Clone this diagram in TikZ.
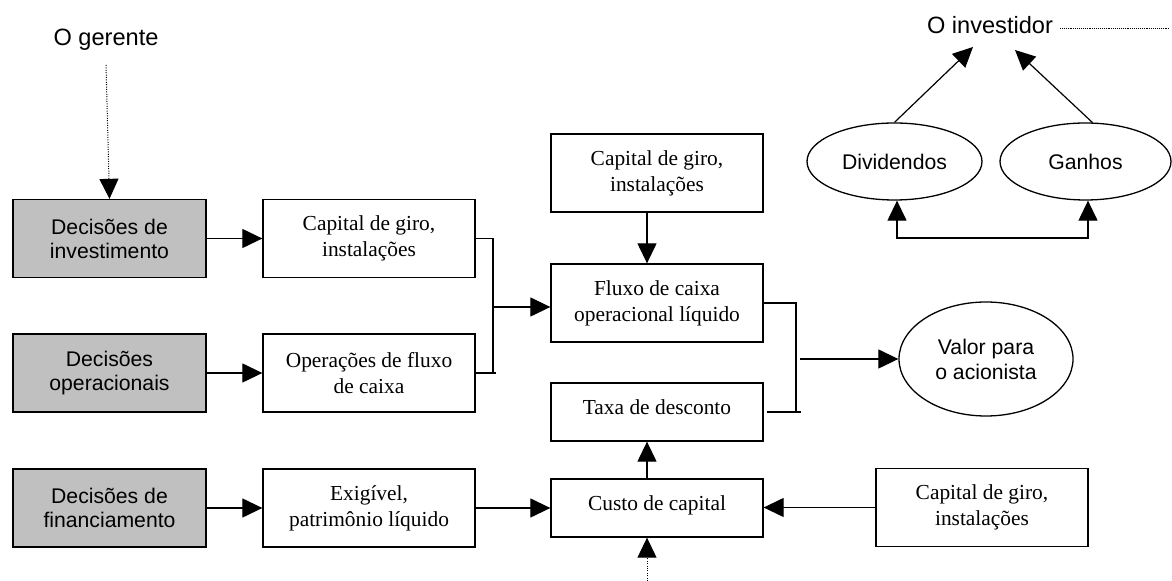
\documentclass[tikz,border=0pt]{standalone}
\usepackage{fontspec}
\setmainfont{Liberation Serif}
\setsansfont{Liberation Sans}
\usepackage{tikz}
\usetikzlibrary{calc}
\usetikzlibrary{positioning}
\usetikzlibrary{arrows.meta}
\usetikzlibrary{shapes}
\definecolor{boxgray}{RGB}{192,192,192}

\begin{document}
\begin{tikzpicture}[x=0.5pt,y=-0.5pt,>={Triangle[length=10pt,width=9.5pt]},
 box/.style={draw,line width=0.65pt,minimum width=106pt,minimum height=39pt,align=center,inner sep=0pt,font=\fontsize{10.7}{13}\selectfont},
 decbox/.style={box,fill=boxgray,minimum width=96.5pt,font=\sffamily\fontsize{10.6}{12}\selectfont},
 onebox/.style={box,minimum height=29pt,text depth=5pt},
 oval/.style={draw,ellipse,line width=0.65pt,inner sep=0pt,align=center,font=\sffamily\fontsize{10.6}{12.5}\selectfont},
 who/.style={font=\sffamily\fontsize{11.8}{14}\selectfont},
 arr/.style={->,line width=0.6pt},
 link/.style={line width=0.6pt},
 dots/.style={line width=0.5pt,dash pattern=on 0.5pt off 0.7pt},
 finedots/.style={line width=0.35pt,dash pattern=on 0.35pt off 0.6pt}]

\useasboundingbox (0,0) rectangle (1172,581);

\node[who] (gerente) at (106,40) {O gerente};
\node[who] (investidor) at (990,25) {O investidor};

\node[decbox] (DI) at (109.5,238.5) {Decisões de\\investimento};
\node[decbox] (DO) at (109.5,373) {Decisões\\operacionais};
\node[decbox] (DF) at (109.5,508) {Decisões de\\financiamento};

\node[box] (CGa) at (369,238.5) {Capital de giro,\\instalações};
\node[box] (OF) at (369,373) {Operações de fluxo\\de caixa};
\node[box] (EX) at (369,508) {Exigível,\\patrimônio líquido};

\node[box] (CGb) at (657,173) {Capital de giro,\\instalações};
\node[box] (FC) at (657,303) {Fluxo de caixa\\operacional líquido};
\node[onebox] (TD) at (657,412) {Taxa de desconto};
\node[onebox] (CC) at (657,508) {Custo de capital};
\node[box] (CGc) at (982,507.5) {Capital de giro,\\instalações};

\node[oval,minimum width=87pt,minimum height=57pt] (VA) at (986,359) {Valor para\\o acionista};
\node[oval,minimum width=87.5pt,minimum height=38.5pt] (DV) at (894.5,161.5) {Dividendos};
\node[oval,minimum width=85.5pt,minimum height=38.5pt] (GA) at (1085.5,161.5) {Ganhos};

\coordinate (g0) at (106,65);
\coordinate (c0) at (647,581);
\coordinate (i1) at (1170,28);
\coordinate (j1) at (493,307);
\coordinate (j2) at (796,359);
\coordinate (v1) at (973,47);
\coordinate (v2) at (1015,50);
\coordinate (hb) at (897,238);
\coordinate (hc) at (1088,238);

\draw[dots,->] (g0) -- (DI.north);
\draw[dots,->] (c0) -- (c0 |- CC.south);
\draw[finedots] (investidor.east |- i1) -- (i1);

\draw[arr] (DI.east) -- (CGa.west);
\draw[arr] (DO.east) -- (OF.west);
\draw[arr] (DF.east) -- (EX.west);
\draw[arr] (EX.east) -- (CC.west);
\draw[arr] (CGc.west) -- (CC.east |- CGc.west);

\draw[link] (CGa.east) -| (j1 |- OF.east) -- ++(3,0);
\draw[link] (OF.east) -- (j1 |- OF.east);
\draw[arr] (j1) -- (j1 -| FC.west);

\draw[arr] (CGb.south -| c0) -- (FC.north -| c0);
\draw[arr] (CC.north -| c0) -- (TD.south -| c0);

\draw[link] (FC.east) -| (j2 |- TD.east) -- ++(5,0);
\draw[link] ([xshift=1.5pt]TD.east) -- (j2 |- TD.east);
\draw[arr] ([xshift=2pt]j2) -- (j2 -| VA.west);

\draw[arr] (DV.north) -- (v1);
\draw[arr] (GA.80) -- (v2);
\draw[<->,line width=0.6pt] (hb |- DV.south) -- (hb) -- (hc) -- (hc |- GA.south);
\end{tikzpicture}
\end{document}
